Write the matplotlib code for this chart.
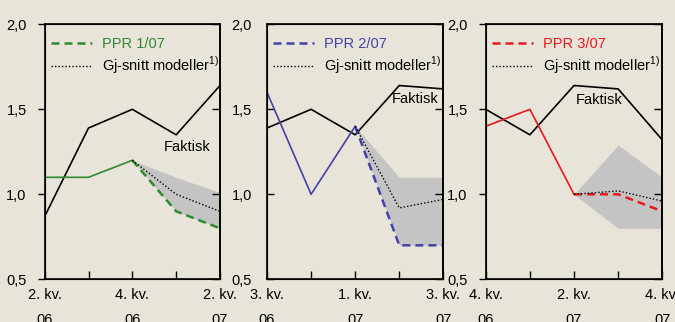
import matplotlib
matplotlib.use('Agg')
import matplotlib.pyplot as plt

plt.rcParams['font.family'] = ['Liberation Sans', 'DejaVu Sans']
plt.rcParams['mathtext.fontset'] = 'custom'
plt.rcParams['mathtext.rm'] = 'Liberation Sans'
plt.rcParams['font.size'] = 10.5

kvartal = [0, 1, 2, 3, 4]
prognose = [2, 3, 4]

# panel 1: PPR 1/07
etiketter1 = ['2. kv.\n06', '4. kv.\n06', '2. kv.\n07']
faktisk1 = [0.87, 1.39, 1.50, 1.35, 1.64]
historikk1 = [1.10, 1.10, 1.20]
ppr1 = [1.20, 0.90, 0.80]
snitt1 = [1.20, 1.00, 0.90]
band_hoy1 = [1.20, 1.10, 1.01]
band_lav1 = [1.20, 0.90, 0.80]

# panel 2: PPR 2/07
etiketter2 = ['3. kv.\n06', '1. kv.\n07', '3. kv.\n07']
faktisk2 = [1.39, 1.50, 1.35, 1.64, 1.62]
historikk2 = [1.60, 1.00, 1.40]
ppr2 = [1.40, 0.70, 0.70]
snitt2 = [1.40, 0.92, 0.97]
band_hoy2 = [1.40, 1.10, 1.10]
band_lav2 = [1.40, 0.70, 0.70]

# panel 3: PPR 3/07
etiketter3 = ['4. kv.\n06', '2. kv.\n07', '4. kv.\n07']
faktisk3 = [1.50, 1.35, 1.64, 1.62, 1.32]
historikk3 = [1.40, 1.50, 1.00]
ppr3 = [1.00, 1.00, 0.90]
snitt3 = [1.00, 1.02, 0.96]
band_hoy3 = [1.00, 1.29, 1.10]
band_lav3 = [1.00, 0.80, 0.80]

bakgrunn = '#e9e4da'
graa = '#c4c4c4'


def panel(ax, etiketter, faktisk, historikk, ppr, snitt, hoy, lav,
          farge, navn, tekst_xy, venstre_inn=False):
    ax.set_facecolor(bakgrunn)
    ax.fill_between(prognose, lav, hoy, color=graa, lw=0, zorder=1)
    ax.plot(kvartal, faktisk, color='black', lw=1.2, zorder=3)
    ax.plot(kvartal[:3], historikk, color=farge, lw=1.2, zorder=3)
    ax.plot(prognose, ppr, color=farge, lw=1.8, ls=(0, (3.2, 2)),
            zorder=4, label=navn)
    ax.plot(prognose, snitt, color='black', lw=1.0, ls=(0, (1, 1.5)),
            zorder=4, label=r'Gj-snitt modeller$^{\mathrm{1)}}$')
    ax.text(tekst_xy[0], tekst_xy[1], 'Faktisk', ha='center', va='center',
            fontsize=10.5, zorder=5)

    ax.set_xlim(0, 4)
    ax.set_ylim(0.5, 2.0)
    ax.set_yticks([0.5, 1.0, 1.5, 2.0])
    ax.set_yticklabels(['0,5', '1,0', '1,5', '2,0'])
    ax.set_xticks([0, 2, 4])
    ax.set_xticks([1, 3], minor=True)
    ax.set_xticklabels(etiketter, linespacing=2.0)
    ax.tick_params(axis='x', which='both', direction='in', length=6,
                   width=1, pad=6, labelsize=10.5)
    ax.tick_params(axis='y', direction='in' if venstre_inn else 'out',
                   length=5, width=1, pad=8 if not venstre_inn else 11,
                   labelsize=10.5)
    for s in ax.spines.values():
        s.set_linewidth(1.2)

    hoyre = ax.twinx()
    hoyre.set_ylim(0.5, 2.0)
    hoyre.set_yticks([0.5, 1.0, 1.5, 2.0])
    hoyre.tick_params(axis='y', direction='in', length=6, width=1,
                      labelright=False)
    hoyre.spines['right'].set_linewidth(1.2)

    leg = ax.legend(loc='upper left', bbox_to_anchor=(0.035, 0.95),
                    frameon=False, handlelength=2.8, handletextpad=0.7,
                    labelspacing=0.25, borderpad=0, borderaxespad=0,
                    fontsize=10.5)
    leg.get_texts()[0].set_color(farge)
    leg.set_zorder(6)


fig = plt.figure(figsize=(6.75, 3.22), dpi=100, facecolor=bakgrunn)
ax1 = fig.add_axes([0.0662, 0.1326, 0.2597, 0.7919])
ax2 = fig.add_axes([0.3956, 0.1326, 0.2612, 0.7919])
ax3 = fig.add_axes([0.7196, 0.1326, 0.2616, 0.7919])

panel(ax1, etiketter1, faktisk1, historikk1, ppr1, snitt1, band_hoy1,
      band_lav1, '#2e8a2e', 'PPR 1/07', (3.24, 1.28))
panel(ax2, etiketter2, faktisk2, historikk2, ppr2, snitt2, band_hoy2,
      band_lav2, '#4343a6', 'PPR 2/07', (3.37, 1.56), venstre_inn=True)
panel(ax3, etiketter3, faktisk3, historikk3, ppr3, snitt3, band_hoy3,
      band_lav3, '#e8191e', 'PPR 3/07', (2.58, 1.555))

fig.savefig('out.png', dpi=100, facecolor=bakgrunn)
